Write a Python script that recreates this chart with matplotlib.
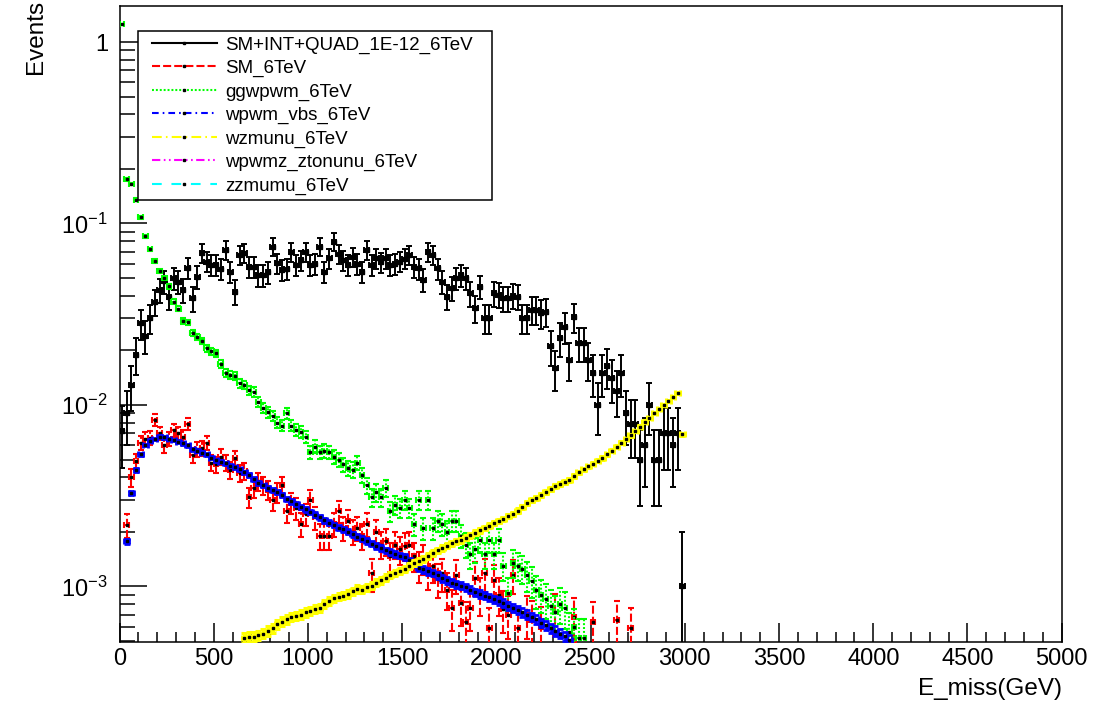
import numpy as np
import matplotlib
matplotlib.use('Agg')
import matplotlib.pyplot as plt
from matplotlib.lines import Line2D
from matplotlib.legend_handler import HandlerLine2D
from matplotlib.ticker import MultipleLocator, FixedLocator, FixedFormatter, LogLocator, NullFormatter

plt.rcParams['font.family'] = ['Liberation Sans', 'DejaVu Sans']
plt.rcParams['mathtext.fontset'] = 'custom'
plt.rcParams['mathtext.rm'] = 'Liberation Sans'
plt.rcParams['mathtext.default'] = 'regular'
plt.rcParams['lines.scale_dashes'] = False

# 120 bins of 25 GeV between 0 and 3000 GeV
bin_width = 25.0
n_bins = 120
centers = bin_width * (np.arange(n_bins) + 0.5)

# bin contents (events per bin), first bin given by *_first
sm_int_quad_first = 0
sm_int_quad = [
    0.0072, 0.0090, 0.0129, 0.0189, 0.0282, 0.0240, 0.0300, 0.0371, 0.0430, 0.0480,
    0.0395, 0.0500, 0.0479, 0.0430, 0.0567, 0.0387, 0.0509, 0.0685, 0.0616, 0.0590,
    0.0590, 0.0560, 0.0715, 0.0543, 0.0421, 0.0670, 0.0685, 0.0578, 0.0578, 0.0520,
    0.0520, 0.0540, 0.0745, 0.0604, 0.0554, 0.0560, 0.0700, 0.0590, 0.0630, 0.0700,
    0.0590, 0.0600, 0.0745, 0.0543, 0.0643, 0.0793, 0.0680, 0.0630, 0.0590, 0.0656,
    0.0600, 0.0543, 0.0715, 0.0590, 0.0643, 0.0610, 0.0643, 0.0590, 0.0600, 0.0616,
    0.0640, 0.0670, 0.0578, 0.0566, 0.0489, 0.0700, 0.0670, 0.0566, 0.0479, 0.0395,
    0.0440, 0.0500, 0.0520, 0.0500, 0.0412, 0.0341, 0.0449, 0.0300, 0.0300, 0.0412,
    0.0404, 0.0387, 0.0387, 0.0400, 0.0395, 0.0300, 0.0300, 0.0334, 0.0334, 0.0320,
    0.0327, 0.0210, 0.0159, 0.0233, 0.0270, 0.0177, 0.0306, 0.0219, 0.0219, 0.0177,
    0.0150, 0.0100, 0.0150, 0.0163, 0.0140, 0.0120, 0.0150, 0.0090, 0.0079, 0.0079,
    0.0050, 0.0060, 0.0100, 0.0050, 0.0050, 0.0070, 0.0070, 0.0060, 0.0070, 0.0010,
]

sm_first = 1
sm = [
    0.00218, 0.0040, 0.0049, 0.0062, 0.0065, 0.0066, 0.0083, 0.0070, 0.0060,
    0.0065, 0.0073, 0.0070, 0.0067, 0.0079, 0.0053, 0.0057, 0.0058, 0.0062, 0.0048,
    0.0047, 0.0052, 0.0048, 0.0044, 0.0051, 0.0042, 0.0043, 0.0031, 0.0035, 0.0038,
    0.0036, 0.0034, 0.0030, 0.0033, 0.0036, 0.0026, 0.0029, 0.0027, 0.0022, 0.0025,
    0.0030, 0.0024, 0.0019, 0.0019, 0.0019, 0.0022, 0.0026, 0.0021, 0.0023, 0.0020,
    0.0021, 0.0019, 0.0022, 0.00118, 0.0020, 0.0017, 0.00177, 0.00147, 0.0017, 0.0016,
    0.00167, 0.0017, 0.00147, 0.0013, 0.00142, 0.0012, 0.0013, 0.00110, 0.00118, 0.00096,
    0.00076, 0.00115, 0.00081, 0.00064, 0.00076, 0.00112, 0.0009, 0.00118, 0.00059, 0.00108,
    0.0009, 0.00075, 0.0007, 0.00115, 0.00059, 0.0, 0.0007, 0.00065, 0.0, 0.0006,
    0.0, 0.0, 0.00072, 0.0, 0.0, 0.0, 0.00068, 0.0, 0.0, 0.0,
    0.00064, 0.0, 0.0, 0.0, 0.0, 0.00065, 0.0, 0.0, 0.00059,
]

ggwpwm_first = 0
ggwpwm = [
    1.25, 0.175, 0.165, 0.135, 0.108, 0.085, 0.072, 0.062, 0.055, 0.050,
    0.045, 0.037, 0.034, 0.029, 0.0285, 0.0250, 0.0237, 0.0225, 0.0205, 0.0198,
    0.0193, 0.0168, 0.0150, 0.0146, 0.0144, 0.0132, 0.0129, 0.0121, 0.0118, 0.0104,
    0.0096, 0.0091, 0.0087, 0.0080, 0.0077, 0.0090, 0.0077, 0.0073, 0.0071, 0.0067,
    0.0055, 0.0059, 0.0055, 0.0056, 0.0055, 0.0052, 0.0050, 0.0047, 0.0045, 0.0044,
    0.0048, 0.0041, 0.0036, 0.0031, 0.0033, 0.0031, 0.0035, 0.0026, 0.0028, 0.0027,
    0.0030, 0.0027, 0.0022, 0.0030, 0.0021, 0.0030, 0.0021, 0.0023, 0.0022, 0.0020,
    0.0023, 0.0023, 0.0019, 0.0017, 0.0015, 0.0016, 0.0018, 0.0015, 0.0018, 0.0015,
    0.0018, 0.0013, 0.00092, 0.00135, 0.00130, 0.00125, 0.00115, 0.00107, 0.00095, 0.00090,
    0.00085, 0.00078, 0.00072, 0.00080, 0.00076, 0.00056, 0.00060, 0.00052, 0.00052,
]

wpwm_vbs_first = 1
wpwm_vbs = [
    0.00177, 0.00326, 0.00439, 0.00535, 0.00602, 0.00636, 0.00650, 0.00669, 0.00664,
    0.00650, 0.00641, 0.00626, 0.00614, 0.00598, 0.00571, 0.00561, 0.00545, 0.00534, 0.00512,
    0.00497, 0.00487, 0.00478, 0.00462, 0.00453, 0.00441, 0.00425, 0.00412, 0.00392, 0.00372,
    0.00360, 0.00350, 0.00340, 0.00331, 0.00318, 0.00304, 0.00294, 0.00284, 0.00275, 0.00266,
    0.00258, 0.00249, 0.00240, 0.00231, 0.00225, 0.00218, 0.00211, 0.00206, 0.00200, 0.00194,
    0.00188, 0.00183, 0.00178, 0.00172, 0.00167, 0.00163, 0.00158, 0.00155, 0.00151, 0.00148,
    0.00145, 0.00139, 0.00133, 0.00127, 0.00124, 0.00121, 0.00119, 0.00115, 0.00111, 0.00108,
    0.00105, 0.00103, 0.00101, 0.00099, 0.00096, 0.00093, 0.00091, 0.00089, 0.00087, 0.00085,
    0.00083, 0.00081, 0.00078, 0.00076, 0.00074, 0.00072, 0.00070, 0.00068, 0.00066, 0.00063,
    0.00061, 0.00059, 0.00057, 0.00055, 0.00053, 0.00051,
]

wzmunu_first = 26
wzmunu = [
    0.000519, 0.000525, 0.000529, 0.000538,
    0.00055, 0.00057, 0.00059, 0.00062, 0.00064, 0.00066, 0.00068, 0.00069, 0.00070, 0.00072,
    0.00073, 0.00075, 0.00076, 0.00080, 0.00083, 0.00086, 0.00088, 0.00089, 0.00091, 0.00094,
    0.00097, 0.00096, 0.00099, 0.00101, 0.00105, 0.00108, 0.00112, 0.00116, 0.00119, 0.00122,
    0.00125, 0.00130, 0.00134, 0.00138, 0.00141, 0.00147, 0.00153, 0.00158, 0.00163, 0.00168,
    0.00173, 0.00177, 0.00180, 0.00186, 0.00192, 0.00198, 0.00204, 0.00210, 0.00216, 0.00224,
    0.00230, 0.00236, 0.00244, 0.00251, 0.00262, 0.00275, 0.00288, 0.00300, 0.00308, 0.00318,
    0.00332, 0.00346, 0.00358, 0.00368, 0.00377, 0.00386, 0.00405, 0.00425, 0.00442, 0.00460,
    0.00475, 0.00492, 0.00510, 0.00535, 0.00560, 0.00590, 0.00620, 0.00650, 0.00680, 0.00720,
    0.00760, 0.00810, 0.00850, 0.00900, 0.00950, 0.01000, 0.01050, 0.01110, 0.01170, 0.00690,
]

# weight of a single MC event, sets the sqrt(N) error bars
w_sm_int_quad = 1.0e-3
w_sm = 5.0e-5
w_ggwpwm = 4.0e-5
w_wpwm_vbs = 2.0e-6
w_wzmunu = 2.0e-6

labels = ['SM+INT+QUAD_1E-12_6TeV', 'SM_6TeV', 'ggwpwm_6TeV', 'wpwm_vbs_6TeV',
          'wzmunu_6TeV', 'wpwmz_ztonunu_6TeV', 'zzmumu_6TeV']
colors = ['black', '#ff0000', '#00ff00', '#0000ff', '#ffff00', '#ff00ff', '#00ffff']
styles = ['-', (0, (5.8, 2.2)), (0, (1.4, 1.4)), (0, (4.8, 2.9, 1.2, 2.9)),
          (0, (7, 3, 1.2, 3)), (0, (6, 2.5, 1.2, 2.5, 1.2, 2.5)), (0, (7, 7))]


def fill(vals, first):
    h = np.zeros(n_bins)
    h[first:first + len(vals)] = vals
    return h


def draw_hist(ax, h, w, color, ls, lw, marker, ms, z):
    m = h > 0
    x = centers[m]
    y = h[m]
    err = np.sqrt(y * w)
    lo = np.minimum(err, y * 0.999)
    eb = ax.errorbar(x, y, xerr=bin_width / 2, yerr=[lo, err], fmt=marker, ms=ms,
                     mfc='black', mec='black', ecolor=color, elinewidth=lw,
                     capsize=2.5, capthick=lw, zorder=z)
    for lc in eb[2]:
        lc.set_linestyle(ls)
    return eb


class ShiftedLine(HandlerLine2D):
    # legend sample drawn a little to the right of the box edge
    def __init__(self, shift, **kw):
        super().__init__(**kw)
        self.shift = shift

    def create_artists(self, legend, orig_handle, xdescent, ydescent, width, height, fontsize, trans):
        return super().create_artists(legend, orig_handle, xdescent - self.shift, ydescent,
                                      width - self.shift, height, fontsize, trans)


fig = plt.figure(figsize=(11.19, 7.03), dpi=100)
ax = fig.add_axes([0.1068, 0.0872, 0.8420, 0.9043])
ax.set_yscale('log')

draw_hist(ax, fill(sm_int_quad, sm_int_quad_first), w_sm_int_quad, colors[0], styles[0], 1.4, 's', 3.0, 3)
draw_hist(ax, fill(sm, sm_first), w_sm, colors[1], styles[1], 1.5, 's', 1.6, 4)
draw_hist(ax, fill(ggwpwm, ggwpwm_first), w_ggwpwm, colors[2], styles[2], 1.5, 's', 1.6, 5)
draw_hist(ax, fill(wpwm_vbs, wpwm_vbs_first), w_wpwm_vbs, colors[3], styles[3], 2.0, 's', 1.6, 6)
draw_hist(ax, fill(wzmunu, wzmunu_first), w_wzmunu, colors[4], styles[4], 2.2, 's', 1.6, 7)

ax.set_xlim(0, 5000)
ax.set_ylim(4.96e-4, 1.58)

ax.xaxis.set_major_locator(MultipleLocator(500))
ax.xaxis.set_minor_locator(MultipleLocator(100))
ax.yaxis.set_major_locator(FixedLocator([1e-3, 1e-2, 1e-1, 1]))
ax.yaxis.set_major_formatter(FixedFormatter(['$10^{-3}$', '$10^{-2}$', '$10^{-1}$', '1']))
ax.yaxis.set_minor_locator(LogLocator(base=10, subs=np.arange(2, 10), numticks=20))
ax.yaxis.set_minor_formatter(NullFormatter())

ax.tick_params(which='both', direction='in', width=1.1, top=False, right=False, labelsize=17)
ax.tick_params(axis='x', which='major', length=13.7, pad=4.5)
ax.tick_params(axis='x', which='minor', length=7.2)
ax.tick_params(axis='y', which='major', length=19.4, pad=8.3)
ax.tick_params(axis='y', which='minor', length=10.8)
for sp in ax.spines.values():
    sp.set_linewidth(1.1)

ax.set_xlabel('E_miss(GeV)', fontsize=17.5, loc='right')
ax.xaxis.set_label_coords(1.0, -0.057)
ax.set_ylabel('Events', fontsize=17.5, loc='top')
ax.yaxis.set_label_coords(-0.077, 1.01)

handles = []
for c, ls in zip(colors, styles):
    handles.append(Line2D([0], [0], color=c, ls=ls, lw=1.5, marker='s', ms=1.6,
                          mfc='black', mec='black'))
hmap = {h: ShiftedLine(5.7, numpoints=1) for h in handles}
leg = ax.legend(handles, labels, loc='upper left', bbox_to_anchor=(0.020, 0.6996, 0.375, 0.2614),
                mode='expand', borderaxespad=0, fontsize=13.5, frameon=True, fancybox=False,
                edgecolor='black', framealpha=1, borderpad=0.3, labelspacing=0.33,
                handlelength=3.9, handletextpad=0.43, handler_map=hmap)
leg.get_frame().set_linewidth(1.1)
leg.set_zorder(10)

fig.savefig('out.png', dpi=100)
